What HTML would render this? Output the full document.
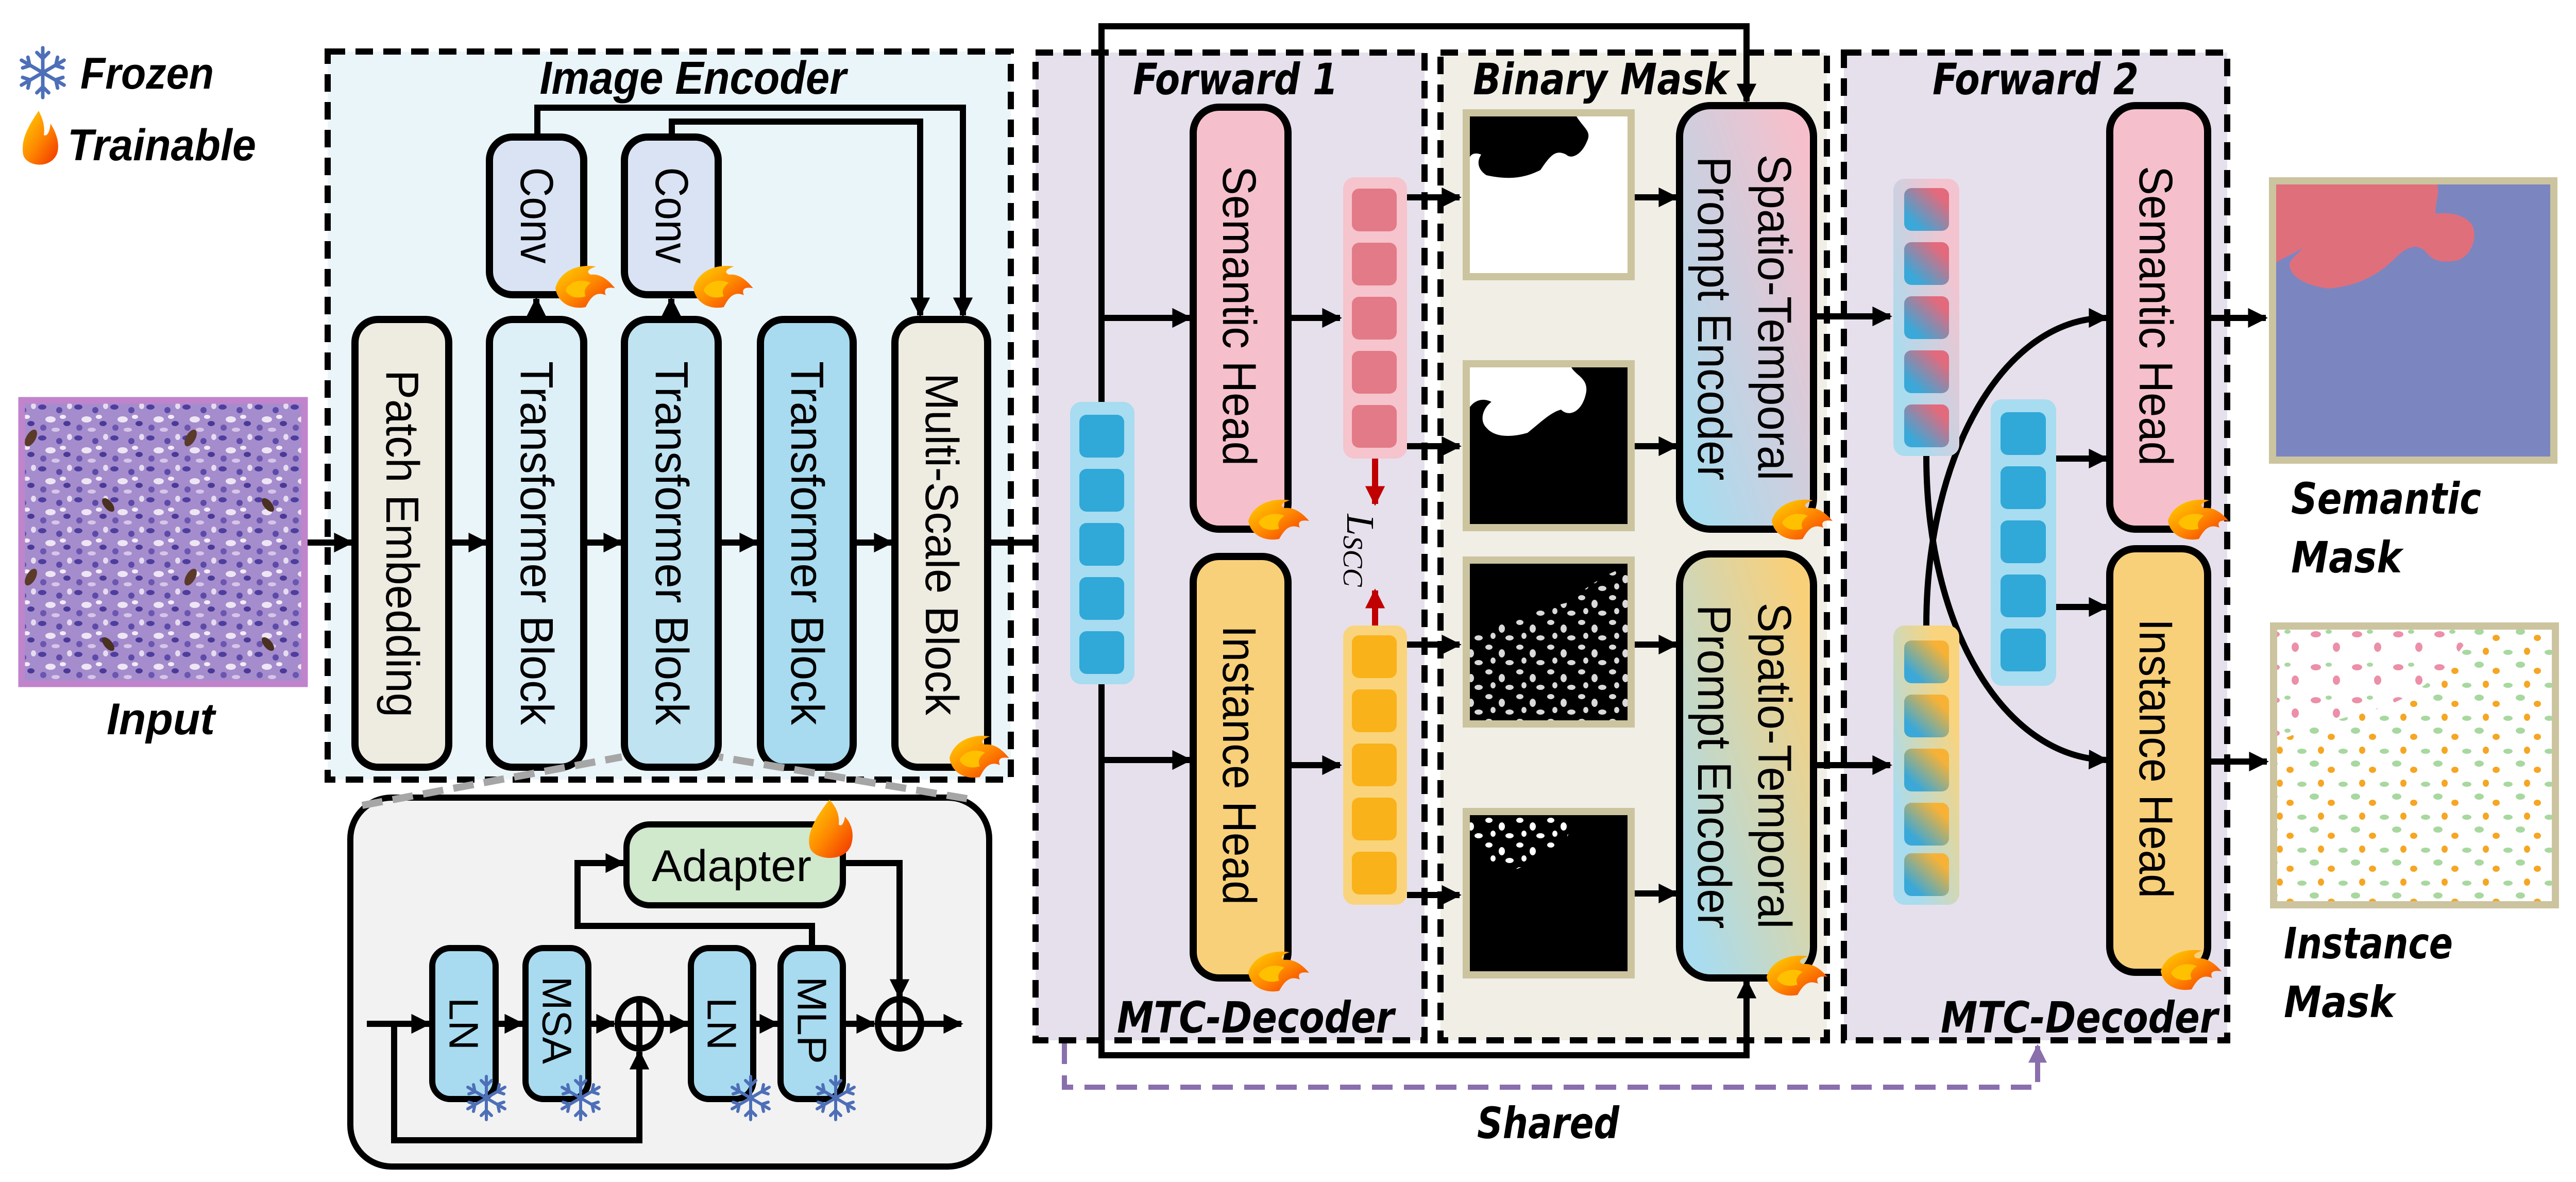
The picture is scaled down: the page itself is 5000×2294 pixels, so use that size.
<!DOCTYPE html>
<html><head><meta charset="utf-8"><style>
html,body{margin:0;padding:0;background:#fff;}
svg{display:block;}
</style></head><body>
<svg xmlns="http://www.w3.org/2000/svg" width="5000" height="2294" viewBox="0 0 5000 2294" font-family="Liberation Sans, sans-serif">
<defs>
<marker id="ah" viewBox="0 0 10 10" refX="9" refY="5" markerWidth="3.6" markerHeight="3.2" orient="auto" markerUnits="strokeWidth"><path d="M0,0 L10,5 L0,10 z" fill="#000"/></marker>
<marker id="ahr" viewBox="0 0 10 10" refX="9" refY="5" markerWidth="3.6" markerHeight="3.2" orient="auto" markerUnits="strokeWidth"><path d="M0,0 L10,5 L0,10 z" fill="#c00000"/></marker>
<marker id="ahp" viewBox="0 0 10 10" refX="9" refY="5" markerWidth="4" markerHeight="3.6" orient="auto" markerUnits="strokeWidth"><path d="M0,0 L10,5 L0,10 z" fill="#8a6fad"/></marker>
<linearGradient id="gst1" x1="0" y1="1" x2="1" y2="0"><stop offset="0.1" stop-color="#a9dcef"/><stop offset="0.9" stop-color="#f5c0cc"/></linearGradient>
<linearGradient id="gst2" x1="0" y1="1" x2="1" y2="0"><stop offset="0.1" stop-color="#a9dcef"/><stop offset="0.9" stop-color="#f9d07a"/></linearGradient>
<linearGradient id="gtp" x1="0" y1="1" x2="1" y2="0"><stop offset="0.2" stop-color="#3aa8d8"/><stop offset="0.8" stop-color="#e26a7c"/></linearGradient>
<linearGradient id="gto" x1="0" y1="1" x2="1" y2="0"><stop offset="0.2" stop-color="#3aa8d8"/><stop offset="0.8" stop-color="#f7b236"/></linearGradient>
<linearGradient id="gcp" x1="0" y1="1" x2="1" y2="0"><stop offset="0.2" stop-color="#a9dcef"/><stop offset="0.8" stop-color="#f3c4cf"/></linearGradient>
<linearGradient id="gco" x1="0" y1="1" x2="1" y2="0"><stop offset="0.2" stop-color="#a9dcef"/><stop offset="0.8" stop-color="#fad47c"/></linearGradient>
<linearGradient id="fire" x1="0" y1="0" x2="1" y2="1"><stop offset="0" stop-color="#ffd400"/><stop offset="0.5" stop-color="#ff8a00"/><stop offset="1" stop-color="#f03000"/></linearGradient>
<pattern id="tissue" width="70" height="60" patternUnits="userSpaceOnUse">
<rect width="70" height="60" fill="#a58ccd"/>
<ellipse cx="12" cy="10" rx="8" ry="5" fill="#4d3e9e"/><ellipse cx="45" cy="16" rx="6" ry="6" fill="#5c4aa8"/>
<ellipse cx="28" cy="34" rx="10" ry="6" fill="#eee6f4"/><ellipse cx="60" cy="42" rx="7" ry="5" fill="#4a3a96"/>
<ellipse cx="14" cy="50" rx="6" ry="6" fill="#6a55b0"/><ellipse cx="52" cy="29" rx="6" ry="4" fill="#f2ecf6"/>
<ellipse cx="38" cy="54" rx="8" ry="4" fill="#d6c6e8"/><ellipse cx="65" cy="8" rx="5" ry="6" fill="#e6dcf0"/>
</pattern>
<pattern id="brown" width="310" height="270" patternUnits="userSpaceOnUse">
<ellipse cx="60" cy="40" rx="9" ry="18" fill="#5a3a28" transform="rotate(30 60 40)"/><ellipse cx="210" cy="170" rx="8" ry="16" fill="#4a3020" transform="rotate(-40 210 170)"/>
</pattern>
<pattern id="wdots" width="60" height="48" patternUnits="userSpaceOnUse">
<ellipse cx="10" cy="8" rx="7" ry="5" fill="#fff"/><ellipse cx="35" cy="20" rx="6" ry="8" fill="#fff"/><ellipse cx="50" cy="38" rx="8" ry="5" fill="#fff"/><ellipse cx="18" cy="34" rx="5" ry="6" fill="#fff"/>
</pattern>
<pattern id="cdots" width="80" height="64" patternUnits="userSpaceOnUse">
<ellipse cx="12" cy="10" rx="9" ry="6" fill="#a8d8a0"/><ellipse cx="45" cy="22" rx="7" ry="6" fill="#f5a623"/><ellipse cx="68" cy="50" rx="9" ry="5" fill="#a8d8a0"/><ellipse cx="25" cy="48" rx="6" ry="7" fill="#f5a623"/>
</pattern>
<pattern id="pdots" width="80" height="64" patternUnits="userSpaceOnUse">
<ellipse cx="15" cy="15" rx="10" ry="6" fill="#ec8fa8"/><ellipse cx="55" cy="40" rx="7" ry="9" fill="#ec8fa8"/><ellipse cx="40" cy="10" rx="6" ry="4" fill="#a8d8a0"/>
</pattern>
<g id="flame"><path d="M0,45 C10,10 50,0 80,5 C65,10 60,15 70,20 C90,18 105,30 118,45 C100,42 95,48 100,58 C80,50 70,62 60,80 C35,85 5,75 0,45 z" fill="url(#fire)"/><path d="M20,48 C30,30 55,28 70,35 C60,42 55,50 60,60 C45,65 25,62 20,48z" fill="#ffc000"/></g>
<g id="snow" fill="none" stroke="#4d6fb8" stroke-width="6" stroke-linecap="round">
<line x1="0" y1="-42" x2="0" y2="42"/><line x1="-36" y1="-21" x2="36" y2="21"/><line x1="-36" y1="21" x2="36" y2="-21"/>
<path d="M-10,-34 L0,-24 L10,-34 M-10,34 L0,24 L10,34"/><path d="M-34,-8 L-22,-12 L-25,-26 M34,8 L22,12 L25,26 M-34,8 L-22,12 L-25,26 M34,-8 L22,-12 L25,-26"/>
</g>
</defs>

<!-- Legend -->
<use href="#snow" transform="translate(83,141) scale(1.15)"/>
<text x="156" y="172" font-size="86" font-weight="bold" font-style="italic" textLength="259" lengthAdjust="spacingAndGlyphs">Frozen</text>
<path d="M75,215 C55,245 40,270 45,300 C50,322 95,330 110,300 C118,280 108,255 98,240 C96,260 90,265 85,262 C88,245 82,228 75,215z" fill="url(#fire)"/>
<text x="131" y="311" font-size="86" font-weight="bold" font-style="italic" textLength="366" lengthAdjust="spacingAndGlyphs">Trainable</text>

<!-- Input -->
<rect x="42" y="777" width="549" height="550" fill="url(#tissue)" stroke="#c084cc" stroke-width="13"/>
<rect x="48" y="783" width="537" height="538" fill="url(#brown)"/>
<text x="312" y="1425" font-size="86" font-weight="bold" font-style="italic" text-anchor="middle" textLength="210" lengthAdjust="spacingAndGlyphs">Input</text>

<!-- Image encoder box -->
<rect x="636" y="100" width="1326" height="1413" fill="#eaf5fa" stroke="#000" stroke-width="12" stroke-dasharray="34,20"/>
<text x="1345" y="182" font-size="90" font-weight="bold" font-style="italic" text-anchor="middle" textLength="595" lengthAdjust="spacingAndGlyphs">Image Encoder</text>

<g fill="none" stroke="#000" stroke-width="12">
<path d="M1043,266 V209 H1869 V612" marker-end="url(#ah)"/>
<path d="M1304,266 V236 H1786 V612" marker-end="url(#ah)"/>
<path d="M1041,620 V580" marker-end="url(#ah)"/>
<path d="M1303,620 V580" marker-end="url(#ah)"/>
<path d="M597,1053 H683" marker-end="url(#ah)"/>
<path d="M871,1053 H944" marker-end="url(#ah)"/>
<path d="M1133,1053 H1206" marker-end="url(#ah)"/>
<path d="M1394,1053 H1470" marker-end="url(#ah)"/>
<path d="M1656,1053 H1731" marker-end="url(#ah)"/>
<path d="M1917,1053 H2071" marker-end="url(#ah)"/>
</g>

<g stroke="#000" stroke-width="14">
<rect x="950" y="266" width="183" height="306" rx="45" fill="#dae3f3"/>
<rect x="1212" y="266" width="182" height="306" rx="45" fill="#dae3f3"/>
<rect x="689" y="620" width="182" height="869" rx="45" fill="#eeebe0"/>
<rect x="950" y="620" width="183" height="869" rx="45" fill="#ddeff7"/>
<rect x="1212" y="620" width="182" height="869" rx="45" fill="#c0e3f2"/>
<rect x="1476" y="620" width="180" height="869" rx="45" fill="#a8dbf0"/>
<rect x="1737" y="620" width="180" height="869" rx="45" fill="#eeebe0"/>
</g>
<g font-size="90" text-anchor="middle" dominant-baseline="central">
<text transform="translate(1041,418) rotate(90)" textLength="187" lengthAdjust="spacingAndGlyphs">Conv</text>
<text transform="translate(1303,418) rotate(90)" textLength="187" lengthAdjust="spacingAndGlyphs">Conv</text>
<text transform="translate(780,1055) rotate(90)" textLength="674" lengthAdjust="spacingAndGlyphs">Patch Embedding</text>
<text transform="translate(1041,1054) rotate(90)" textLength="706" lengthAdjust="spacingAndGlyphs">Transformer Block</text>
<text transform="translate(1303,1054) rotate(90)" textLength="706" lengthAdjust="spacingAndGlyphs">Transformer Block</text>
<text transform="translate(1566,1054) rotate(90)" textLength="706" lengthAdjust="spacingAndGlyphs">Transformer Block</text>
<text transform="translate(1827,1056) rotate(90)" textLength="664" lengthAdjust="spacingAndGlyphs">Multi-Scale Block</text>
</g>
<use href="#flame" transform="translate(1078,512) scale(0.98,1.05)"/>
<use href="#flame" transform="translate(1346,512) scale(0.98,1.05)"/>
<use href="#flame" transform="translate(1843,1424) scale(0.98,1.05)"/>

<!-- detail box -->
<rect x="680" y="1548" width="1240" height="716" rx="80" fill="#f2f2f2" stroke="#000" stroke-width="12"/>
<g stroke="#a6a6a6" stroke-width="14" stroke-dasharray="40,20" fill="none">
<path d="M703,1563 L1207,1469"/><path d="M1877,1550 L1395,1469"/>
</g>
<g fill="none" stroke="#000" stroke-width="12">
<path d="M712,1987 H833" marker-end="url(#ah)"/>
<path d="M962,1987 H1014" marker-end="url(#ah)"/>
<path d="M1142,1987 H1192" marker-end="url(#ah)"/>
<path d="M1286,1987 H1335" marker-end="url(#ah)"/>
<path d="M1462,1987 H1509" marker-end="url(#ah)"/>
<path d="M1636,1987 H1697" marker-end="url(#ah)"/>
<path d="M1791,1987 H1866" marker-end="url(#ah)"/>
<path d="M765,1987 V2213 H1241 V2041" marker-end="url(#ah)"/>
<path d="M1576,1840 V1797 H1121 V1675 H1210" marker-end="url(#ah)"/>
<path d="M1636,1675 H1746 V1935" marker-end="url(#ah)"/>
<ellipse cx="1241" cy="1987" rx="42" ry="48"/><path d="M1199,1987 H1283 M1241,1939 V2035"/>
<ellipse cx="1746" cy="1987" rx="42" ry="48"/><path d="M1704,1987 H1788 M1746,1939 V2035"/>
</g>
<g stroke="#000" stroke-width="12">
<rect x="1216" y="1600" width="420" height="157" rx="45" fill="#d0e8cc"/>
<rect x="839" y="1840" width="123" height="293" rx="35" fill="#a8dbf0"/>
<rect x="1020" y="1840" width="122" height="293" rx="35" fill="#a8dbf0"/>
<rect x="1341" y="1840" width="121" height="293" rx="35" fill="#a8dbf0"/>
<rect x="1515" y="1840" width="121" height="293" rx="35" fill="#a8dbf0"/>
</g>
<text x="1420" y="1710" font-size="86" text-anchor="middle" textLength="310" lengthAdjust="spacingAndGlyphs">Adapter</text>
<g font-size="80" text-anchor="middle" dominant-baseline="central">
<text transform="translate(900,1987) rotate(90)">LN</text>
<text transform="translate(1081,1980) rotate(90)" textLength="170" lengthAdjust="spacingAndGlyphs">MSA</text>
<text transform="translate(1401,1987) rotate(90)">LN</text>
<text transform="translate(1576,1980) rotate(90)" textLength="170" lengthAdjust="spacingAndGlyphs">MLP</text>
</g>
<use href="#snow" transform="translate(944,2131)"/><use href="#snow" transform="translate(1127,2131)"/>
<use href="#snow" transform="translate(1457,2131)"/><use href="#snow" transform="translate(1622,2131)"/>
<path d="M1610,1552 C1580,1590 1565,1620 1572,1645 C1580,1670 1640,1675 1652,1640 C1660,1615 1650,1595 1640,1585 C1638,1600 1632,1605 1628,1600 C1630,1580 1622,1565 1610,1552z" fill="url(#fire)"/>

<!-- Forward1 / Binary / Forward2 boxes -->
<rect x="2010" y="102" width="755" height="1917" fill="#e6e0ec" stroke="#000" stroke-width="12" stroke-dasharray="34,20"/>
<rect x="2796" y="102" width="750" height="1917" fill="#f1eee6" stroke="#000" stroke-width="12" stroke-dasharray="34,20"/>
<rect x="3579" y="102" width="744" height="1917" fill="#e6e0ec" stroke="#000" stroke-width="12" stroke-dasharray="34,20"/>
<g font-size="84" font-weight="bold" font-style="italic" text-anchor="middle" font-family="DejaVu Sans, sans-serif">
<text x="2398" y="183" textLength="398" lengthAdjust="spacingAndGlyphs">Forward 1</text>
<text x="3107" y="183" textLength="496" lengthAdjust="spacingAndGlyphs">Binary Mask</text>
<text x="3951" y="183" textLength="400" lengthAdjust="spacingAndGlyphs">Forward 2</text>
<text x="2437" y="2004" textLength="538" lengthAdjust="spacingAndGlyphs">MTC-Decoder</text>
<text x="4036" y="2004" textLength="538" lengthAdjust="spacingAndGlyphs">MTC-Decoder</text>
<text x="3005" y="2209" textLength="276" lengthAdjust="spacingAndGlyphs">Shared</text>
<text x="4447" y="997" text-anchor="start" textLength="369" lengthAdjust="spacingAndGlyphs">Semantic</text>
<text x="4447" y="1111" text-anchor="start" textLength="215" lengthAdjust="spacingAndGlyphs">Mask</text>
<text x="4433" y="1860" text-anchor="start" textLength="328" lengthAdjust="spacingAndGlyphs">Instance</text>
<text x="4433" y="1974" text-anchor="start" textLength="215" lengthAdjust="spacingAndGlyphs">Mask</text>
</g>

<path d="M2066,2025 V2110 H3955 V2030" fill="none" stroke="#8a6fad" stroke-width="10" stroke-dasharray="40,22" marker-end="url(#ahp)"/>

<g fill="none" stroke="#000" stroke-width="12">
<path d="M2138,780 V51 H3390 V197" marker-end="url(#ah)"/>
<path d="M2138,1328 V2048 H3390 V1903" marker-end="url(#ah)"/>
<path d="M2138,617 H2310" marker-end="url(#ah)"/>
<path d="M2138,1475 H2310" marker-end="url(#ah)"/>
<path d="M2500,617 H2601" marker-end="url(#ah)"/>
<path d="M2500,1485 H2601" marker-end="url(#ah)"/>
<path d="M2731,383 H2833" marker-end="url(#ah)"/>
<path d="M2731,866 H2833" marker-end="url(#ah)"/>
<path d="M2731,1251 H2833" marker-end="url(#ah)"/>
<path d="M2731,1737 H2833" marker-end="url(#ah)"/>
<path d="M3148,383 H3254" marker-end="url(#ah)"/>
<path d="M3160,866 H3254" marker-end="url(#ah)"/>
<path d="M3160,1251 H3254" marker-end="url(#ah)"/>
<path d="M3160,1734 H3254" marker-end="url(#ah)"/>
<path d="M3520,614 H3669" marker-end="url(#ah)"/>
<path d="M3520,1485 H3669" marker-end="url(#ah)"/>
<path d="M3739,885 C3739,1220 3890,1470 4089,1475" marker-end="url(#ah)"/>
<path d="M3739,1214 C3739,880 3890,617 4089,617" marker-end="url(#ah)"/>
<path d="M3991,890 H4089" marker-end="url(#ah)"/>
<path d="M3991,1178 H4089" marker-end="url(#ah)"/>
<path d="M4285,617 H4398" marker-end="url(#ah)"/>
<path d="M4285,1478 H4400" marker-end="url(#ah)"/>
</g>
<g fill="none" stroke="#c00000" stroke-width="12">
<path d="M2669,890 V978" marker-end="url(#ahr)"/>
<path d="M2669,1214 V1146" marker-end="url(#ahr)"/>
</g>
<text transform="translate(2640,1068) rotate(90)" font-family="Liberation Serif, serif" font-style="italic" font-size="76" text-anchor="middle" dominant-baseline="central">L<tspan font-size="54" dy="14">SCC</tspan></text>

<rect x="2077" y="780" width="125" height="548" rx="22" fill="#a8dcf0"/>
<g fill="#30a8d8"><rect x="2095" y="805" width="87" height="83" rx="14"/><rect x="2095" y="910" width="87" height="83" rx="14"/><rect x="2095" y="1015" width="87" height="83" rx="14"/><rect x="2095" y="1120" width="87" height="83" rx="14"/><rect x="2095" y="1225" width="87" height="83" rx="14"/></g>
<rect x="2607" y="344" width="124" height="546" rx="22" fill="#f6c4cc"/>
<g fill="#e37a88"><rect x="2624" y="366" width="87" height="83" rx="14"/><rect x="2624" y="471" width="87" height="83" rx="14"/><rect x="2624" y="576" width="87" height="83" rx="14"/><rect x="2624" y="681" width="87" height="83" rx="14"/><rect x="2624" y="786" width="87" height="83" rx="14"/></g>
<rect x="2607" y="1214" width="124" height="542" rx="22" fill="#fad47c"/>
<g fill="#f9b21a"><rect x="2624" y="1233" width="87" height="83" rx="14"/><rect x="2624" y="1338" width="87" height="83" rx="14"/><rect x="2624" y="1443" width="87" height="83" rx="14"/><rect x="2624" y="1548" width="87" height="83" rx="14"/><rect x="2624" y="1653" width="87" height="83" rx="14"/></g>
<rect x="3675" y="347" width="128" height="538" rx="22" fill="url(#gcp)"/>
<g fill="url(#gtp)"><rect x="3696" y="365" width="87" height="83" rx="14"/><rect x="3696" y="470" width="87" height="83" rx="14"/><rect x="3696" y="575" width="87" height="83" rx="14"/><rect x="3696" y="680" width="87" height="83" rx="14"/><rect x="3696" y="785" width="87" height="83" rx="14"/></g>
<rect x="3675" y="1214" width="128" height="542" rx="22" fill="url(#gco)"/>
<g fill="url(#gto)"><rect x="3696" y="1243" width="87" height="83" rx="14"/><rect x="3696" y="1348" width="87" height="83" rx="14"/><rect x="3696" y="1453" width="87" height="83" rx="14"/><rect x="3696" y="1558" width="87" height="83" rx="14"/><rect x="3696" y="1656" width="87" height="83" rx="14"/></g>
<rect x="3864" y="775" width="127" height="556" rx="22" fill="#a8dcf0"/>
<g fill="#30a8d8"><rect x="3883" y="800" width="88" height="83" rx="14"/><rect x="3883" y="905" width="88" height="83" rx="14"/><rect x="3883" y="1010" width="88" height="83" rx="14"/><rect x="3883" y="1115" width="88" height="83" rx="14"/><rect x="3883" y="1220" width="88" height="83" rx="14"/></g>

<g stroke="#000" stroke-width="14">
<rect x="2316" y="208" width="184" height="819" rx="50" fill="#f5c0cc"/>
<rect x="2316" y="1080" width="184" height="818" rx="50" fill="#f9d07a"/>
<rect x="3260" y="205" width="260" height="822" rx="60" fill="url(#gst1)"/>
<rect x="3260" y="1075" width="260" height="823" rx="60" fill="url(#gst2)"/>
<rect x="4095" y="205" width="190" height="822" rx="50" fill="#f5c0cc"/>
<rect x="4095" y="1065" width="190" height="822" rx="50" fill="#f9d07a"/>
</g>
<g font-size="92" text-anchor="middle" dominant-baseline="central">
<text transform="translate(2405,613) rotate(90)" textLength="582" lengthAdjust="spacingAndGlyphs">Semantic Head</text>
<text transform="translate(2405,1485) rotate(90)" textLength="542" lengthAdjust="spacingAndGlyphs">Instance Head</text>
<text transform="translate(4184,613) rotate(90)" textLength="582" lengthAdjust="spacingAndGlyphs">Semantic Head</text>
<text transform="translate(4184,1472) rotate(90)" textLength="542" lengthAdjust="spacingAndGlyphs">Instance Head</text>
<text transform="translate(3444,616) rotate(90)" textLength="633" lengthAdjust="spacingAndGlyphs">Spatio-Temporal</text>
<text transform="translate(3327,618) rotate(90)" textLength="629" lengthAdjust="spacingAndGlyphs">Prompt Encoder</text>
<text transform="translate(3444,1486) rotate(90)" textLength="633" lengthAdjust="spacingAndGlyphs">Spatio-Temporal</text>
<text transform="translate(3327,1488) rotate(90)" textLength="629" lengthAdjust="spacingAndGlyphs">Prompt Encoder</text>
</g>
<use href="#flame" transform="translate(2423,966)"/>
<use href="#flame" transform="translate(2423,1843)"/>
<use href="#flame" transform="translate(3439,966)"/>
<use href="#flame" transform="translate(3429,1851)"/>
<use href="#flame" transform="translate(4208,966)"/>
<use href="#flame" transform="translate(4194,1840)"/>

<rect x="2846" y="219" width="320" height="318" fill="#fff" stroke="#cbc49f" stroke-width="14"/>
<path d="M2853,226 H3060 C3075,250 3090,255 3080,275 C3070,300 3050,310 3040,300 C3020,290 3010,300 2990,330 C2960,345 2930,350 2885,340 C2870,330 2865,315 2875,300 C2862,295 2855,300 2853,305 z" fill="#000"/>
<rect x="2846" y="706" width="320" height="318" fill="#000" stroke="#cbc49f" stroke-width="14"/>
<path d="M2853,713 H3050 C3060,730 3085,735 3078,765 C3070,800 3045,810 3030,795 C3010,800 2990,820 2965,840 C2930,850 2900,848 2885,830 C2870,815 2880,790 2895,780 C2875,770 2860,780 2853,790 z" fill="#fff"/>
<rect x="2846" y="1087" width="320" height="318" fill="#000" stroke="#cbc49f" stroke-width="14"/>
<path d="M2853,1235 C2920,1200 2980,1185 3040,1170 C3080,1140 3120,1110 3159,1100 V1398 H2853z" fill="url(#wdots)" opacity="0.85"/>
<rect x="2846" y="1575" width="320" height="317" fill="#000" stroke="#cbc49f" stroke-width="14"/>
<path d="M2853,1582 H3040 C3060,1620 3030,1650 2990,1660 C2950,1690 2920,1700 2890,1680 C2870,1660 2860,1640 2853,1630z" fill="url(#wdots)"/>

<rect x="4411" y="351" width="546" height="542" fill="#7b86c0" stroke="#cbc49f" stroke-width="14"/>
<path d="M4418,358 H4731 C4735,380 4725,400 4728,415 C4760,410 4790,420 4800,440 C4810,470 4790,500 4770,505 C4740,512 4720,505 4710,490 C4690,470 4670,480 4650,500 C4610,540 4570,555 4520,560 C4480,555 4450,540 4445,520 C4440,505 4455,500 4470,480 C4450,495 4430,500 4418,510z" fill="#e06f7c"/>
<rect x="4413" y="1215" width="547" height="541" fill="#fff" stroke="#cbc49f" stroke-width="14"/>
<rect x="4420" y="1222" width="533" height="527" fill="url(#cdots)"/>
<path d="M4420,1222 H4800 C4760,1300 4680,1360 4600,1380 C4520,1400 4460,1420 4420,1440z" fill="#fff"/>
<path d="M4420,1222 H4800 C4760,1300 4680,1360 4600,1380 C4520,1400 4460,1420 4420,1440z" fill="url(#pdots)"/>
</svg>
</body></html>
